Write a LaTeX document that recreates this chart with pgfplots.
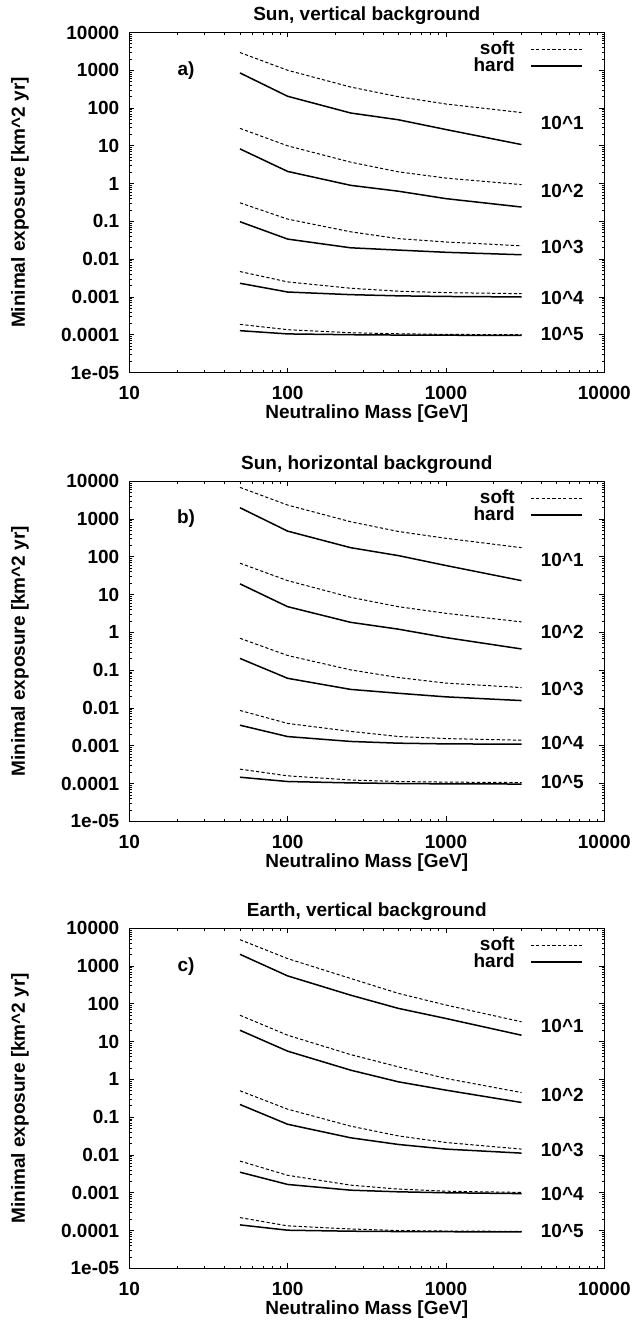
\documentclass[border=0pt]{standalone}
\usepackage{fontspec}
\setmainfont{Liberation Sans}
\usepackage{pgfplots}
\usepackage{pgfplotstable}
\pgfplotsset{compat=1.18}

% m = neutralino mass, s/h = soft/hard for 10^1 ... 10^5
\pgfplotstableread{
m    s1    h1   s2   h2    s3     h3     s4      h4      s5      h5
50   2950  850  29   8.3   0.31   0.098  0.0047  0.0023  1.88e-4 1.28e-4
100  1000  205  10   2.1   0.115  0.034  0.0025  0.00135 1.36e-4 1.05e-4
250  360   74   3.7  0.9   0.053  0.020  0.0017  0.00115 1.13e-4 1.0e-4
500  200   49   2.05 0.63  0.035  0.0174 0.00142 0.00107 1.06e-4 0.98e-4
1000 128   27   1.4  0.40  0.0285 0.0152 0.0013  0.00103 1.02e-4 0.97e-4
3000 76    10.8 0.94 0.24  0.0226 0.0131 0.00122 0.001   1.0e-4  0.96e-4
}\sunvert

\pgfplotstableread{
m    s1    h1   s2   h2    s3     h3     s4      h4      s5      h5
50   6900  2000 68   19.3  0.70   0.205  0.0086  0.0035  2.4e-4  1.47e-4
100  2350  480  23.5 4.8   0.245  0.061  0.0039  0.00175 1.6e-4  1.13e-4
250  850   175  8.5  1.85  0.102  0.031  0.0024  0.0013  1.24e-4 1.04e-4
500  470   108  4.8  1.22  0.064  0.0245 0.00176 0.00117 1.13e-4 1.0e-4
1000 310   59   3.2  0.73  0.0455 0.0197 0.00155 0.00112 1.09e-4 0.98e-4
3000 175   23.5 1.9  0.365 0.0347 0.0157 0.0014  0.0011  1.06e-4 0.97e-4
}\sunhor

\pgfplotstableread{
m    s1    h1   s2   h2    s3     h3     s4      h4      s5      h5
50   5000  2050 50   20    0.5    0.217  0.0069  0.0035  2.2e-4  1.41e-4
100  1580  550  14.8 5.6   0.163  0.065  0.0029  0.00166 1.33e-4 1.02e-4
250  470   170  4.55 1.76  0.058  0.0285 0.00159 0.00117 1.1e-4  0.96e-4
500  190   76   2.15 0.865 0.032  0.019  0.00125 0.00106 1.0e-4  0.94e-4
1000 93    41   1.06 0.52  0.0214 0.0143 0.0011  0.001   0.97e-4 0.93e-4
3000 33.5  14.8 0.45 0.245 0.0143 0.0112 0.00102 0.00095 0.95e-4 0.92e-4
}\earthvert

\pgfplotsset{
  legend image code/.code={%
    \path[draw=none] (0pt,0pt) -- (32pt,0pt);
    \draw[#1] (6.5pt,0pt) -- (32pt,0pt);},
  soft/.style={black, line width=0.5pt, dash pattern=on 1.6pt off 1.1pt},
  hard/.style={black, line width=0.75pt},
  exppanel/.style={
    scale only axis, width=237.5pt, height=170pt,
    xmin=10, xmax=10000, ymin=1e-5, ymax=1e4,
    xtick={10,100,1000,10000}, xticklabels={10,100,1000,10000},
    ytick={1e-5,1e-4,1e-3,1e-2,1e-1,1,10,100,1000,10000},
    yticklabels={1e-05,0.0001,0.001,0.01,0.1,1,10,100,1000,10000},
    major tick length=2.5pt, minor tick length=1.3pt,
    tick style={black, line width=0.4pt},
    axis line style={line width=0.5pt},
    xticklabel style={yshift=-3.3pt},
    yticklabel style={xshift=-1.5pt},
    xlabel={Neutralino Mass [GeV]},
    ylabel={Minimal exposure [km\textasciicircum2 yr]},
    xlabel style={at={(axis description cs:0.5,-0.121)}, anchor=center},
    ylabel style={at={(axis description cs:-0.2301,0.5)}, anchor=center},
    title style={at={(axis description cs:0.5,1.0133)}, anchor=center},
    legend plot pos=right, legend cell align=right,
    legend style={draw=none, fill=none, at={(axis description cs:0.955,0.985)},
      anchor=north east, inner sep=0pt, row sep=-3pt,
      nodes={inner sep=1.5pt}},
  },
}

\newcommand{\curves}[1]{%
  \addplot[soft] table[x=m, y=s1] {#1};
  \addlegendentry{soft}
  \addplot[hard] table[x=m, y=h1] {#1};
  \addlegendentry{hard}
  \addplot[soft, forget plot] table[x=m, y=s2] {#1};
  \addplot[hard, forget plot] table[x=m, y=h2] {#1};
  \addplot[soft, forget plot] table[x=m, y=s3] {#1};
  \addplot[hard, forget plot] table[x=m, y=h3] {#1};
  \addplot[soft, forget plot] table[x=m, y=s4] {#1};
  \addplot[hard, forget plot] table[x=m, y=h4] {#1};
  \addplot[soft, forget plot] table[x=m, y=s5] {#1};
  \addplot[hard, forget plot] table[x=m, y=h5] {#1};
}

\begin{document}
\begin{tikzpicture}[font=\fontsize{9.5}{11}\selectfont\bfseries]
\path[use as bounding box] (-64.65pt,16.25pt) rectangle (251.35pt,-644.25pt);

\begin{loglogaxis}[exppanel, at={(0,0)}, anchor=north west,
  title={Sun, vertical background}]
\curves{\sunvert}
\node at (axis cs:22.8,1000) {a)};
\node at (axis cs:5430,41.3) {10\textasciicircum1};
\node at (axis cs:5430,0.64) {10\textasciicircum2};
\node at (axis cs:5430,0.021) {10\textasciicircum3};
\node at (axis cs:5430,9.5e-4) {10\textasciicircum4};
\node at (axis cs:5430,1.02e-4) {10\textasciicircum5};
\end{loglogaxis}

\begin{loglogaxis}[exppanel, at={(0,-224.4pt)}, anchor=north west,
  title={Sun, horizontal background}]
\curves{\sunhor}
\node at (axis cs:22.8,1000) {b)};
\node at (axis cs:5430,84) {10\textasciicircum1};
\node at (axis cs:5430,1.02) {10\textasciicircum2};
\node at (axis cs:5430,0.0316) {10\textasciicircum3};
\node at (axis cs:5430,1.22e-3) {10\textasciicircum4};
\node at (axis cs:5430,1.07e-4) {10\textasciicircum5};
\end{loglogaxis}

\begin{loglogaxis}[exppanel, at={(0,-447.9pt)}, anchor=north west,
  title={Earth, vertical background}]
\curves{\earthvert}
\node at (axis cs:22.8,1000) {c)};
\node at (axis cs:5430,25.9) {10\textasciicircum1};
\node at (axis cs:5430,0.385) {10\textasciicircum2};
\node at (axis cs:5430,0.0134) {10\textasciicircum3};
\node at (axis cs:5430,9.5e-4) {10\textasciicircum4};
\node at (axis cs:5430,1.0e-4) {10\textasciicircum5};
\end{loglogaxis}
\end{tikzpicture}
\end{document}
